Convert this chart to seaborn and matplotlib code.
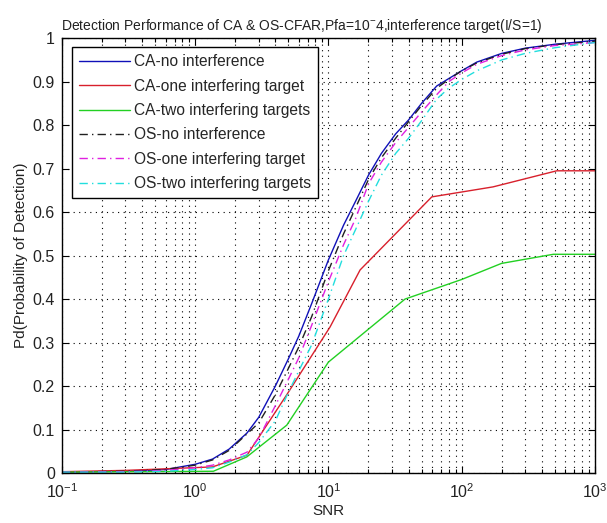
import numpy as np
import pandas as pd
import matplotlib
matplotlib.use("Agg")
import matplotlib.pyplot as plt
import seaborn as sns
from matplotlib.ticker import LogLocator

# SNR sample points (linear scale) shared by the smooth curves
snr = [0.1, 0.3, 0.6, 1.0, 1.35, 1.8, 2.45, 3.0, 4.0, 5.0, 6.0, 7.5, 10, 13, 16,
       20, 25, 32, 40, 50, 65, 80, 100, 130, 200, 300, 500, 1000]

ca_none = [0.002, 0.004, 0.008, 0.020, 0.032, 0.055, 0.092, 0.128, 0.200, 0.262,
           0.315, 0.390, 0.490, 0.570, 0.625, 0.685, 0.735, 0.780, 0.812, 0.850,
           0.890, 0.907, 0.925, 0.945, 0.965, 0.977, 0.986, 0.995]
os_none = [0.002, 0.004, 0.008, 0.018, 0.030, 0.052, 0.090, 0.115, 0.180, 0.240,
           0.290, 0.360, 0.465, 0.550, 0.610, 0.675, 0.725, 0.770, 0.808, 0.845,
           0.885, 0.905, 0.925, 0.943, 0.963, 0.976, 0.985, 0.993]
os_one = [0.002, 0.003, 0.006, 0.012, 0.018, 0.030, 0.048, 0.080, 0.155, 0.215,
          0.265, 0.340, 0.440, 0.525, 0.585, 0.665, 0.715, 0.760, 0.795, 0.830,
          0.870, 0.900, 0.920, 0.940, 0.960, 0.973, 0.983, 0.990]
os_two = [0.002, 0.002, 0.004, 0.008, 0.012, 0.025, 0.042, 0.070, 0.120, 0.185,
          0.235, 0.295, 0.400, 0.500, 0.560, 0.625, 0.685, 0.735, 0.770, 0.810,
          0.860, 0.885, 0.905, 0.925, 0.950, 0.965, 0.978, 0.990]

# CA-CFAR with interfering targets (coarser sampling)
snr_ca_one = [0.1, 0.3, 1.35, 2.45, 4.87, 10.3, 17.3, 59.7, 172, 517, 1000]
ca_one = [0.003, 0.006, 0.014, 0.041, 0.180, 0.336, 0.467, 0.635, 0.658, 0.695, 0.695]

snr_ca_two = [0.1, 1.37, 2.44, 4.87, 10, 37.6, 100, 199, 488, 1000]
ca_two = [0.002, 0.004, 0.037, 0.110, 0.255, 0.400, 0.445, 0.482, 0.503, 0.503]

labels = ["CA-no interference", "CA-one interfering target",
          "CA-two interfering targets", "OS-no interference",
          "OS-one interfering target", "OS-two interfering targets"]

y_ticks = [0, 0.1, 0.2, 0.3, 0.4, 0.5, 0.6, 0.7, 0.8, 0.9, 1]
y_tick_labels = ["0", "0.1", "0.2", "0.3", "0.4", "0.5", "0.6", "0.7", "0.8", "0.9", "1"]

series = [
    (snr, ca_none, "#1010b8", "-"),
    (snr_ca_one, ca_one, "#d8202c", "-"),
    (snr_ca_two, ca_two, "#22d022", "-"),
    (snr, os_none, "#202020", "-."),
    (snr, os_one, "#e020e0", "-."),
    (snr, os_two, "#22dede", "-."),
]

sns.set_theme(style="white")
plt.rcParams["font.family"] = ["Liberation Sans", "DejaVu Sans"]
plt.rcParams["mathtext.fontset"] = "custom"
plt.rcParams["mathtext.rm"] = "Liberation Sans"
plt.rcParams["mathtext.it"] = "Liberation Sans"

fig = plt.figure(figsize=(6.07, 5.23), dpi=100)
ax = fig.add_axes([0.102, 0.0956, 0.878, 0.8314])

for (x, y, color, ls), lab in zip(series, labels):
    df = pd.DataFrame({"SNR": x, "Pd": y})
    sns.lineplot(data=df, x="SNR", y="Pd", ax=ax, color=color, linewidth=1.0,
                 label=lab, estimator=None, sort=False)
    line = ax.lines[-1]
    if ls == "-.":
        line.set_dashes((6, 3, 1, 3))

ax.set_xscale("log")
ax.set_xlim(0.1, 1000)
ax.set_ylim(0, 1)
ax.set_yticks(y_ticks, y_tick_labels)
ax.xaxis.set_major_locator(LogLocator(base=10, numticks=10))
ax.xaxis.set_minor_locator(LogLocator(base=10, subs=np.arange(2, 10), numticks=100))

ax.grid(True, which="major", axis="both", color="black", linestyle=(0, (1, 4)), linewidth=0.8)
ax.grid(True, which="minor", axis="x", color="black", linestyle=(0, (1, 4)), linewidth=0.8)

ax.tick_params(which="both", direction="in", top=True, right=True, bottom=True, left=True,
               colors="black", labelsize=11.5, labelcolor="#222222")
ax.tick_params(which="major", length=5, width=0.8)
ax.tick_params(which="minor", length=3, width=0.8)
ax.tick_params(axis="x", which="major", pad=7)
ax.tick_params(axis="y", which="major", pad=5)
for s in ax.spines.values():
    s.set_color("black")
    s.set_linewidth(1.0)

ax.set_xlabel("SNR", fontsize=11, color="#222222", labelpad=2)
ax.set_ylabel("Pd(Probability of Detection)", fontsize=11, color="#222222", labelpad=3)
ax.set_title(r"Detection Performance of CA & OS-CFAR,Pfa=10$^{-}$4,interference target(I/S=1)",
             fontsize=10, color="#222222", pad=6, x=0.45)

leg = ax.legend(loc="upper left", bbox_to_anchor=(0.018, 0.979), fontsize=11.2,
                frameon=True, fancybox=False, framealpha=1, edgecolor="black",
                handlelength=3.3, handletextpad=0.25, labelspacing=0.6,
                borderpad=0.45, borderaxespad=0.0)
leg.get_frame().set_linewidth(1.0)

fig.savefig("out.png", dpi=100, facecolor="white")
